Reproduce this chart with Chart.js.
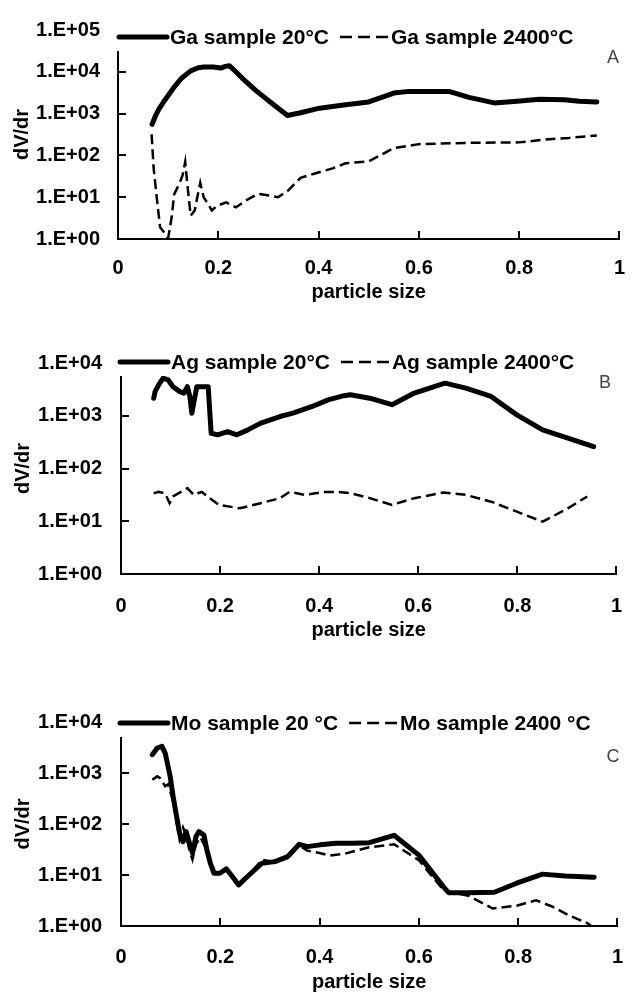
<!DOCTYPE html>
<html>
<head>
<meta charset="utf-8">
<script src="https://cdn.jsdelivr.net/npm/chart.js@4.4.1/dist/chart.umd.min.js"></script>
<style>
  body { margin: 0; background: #fff; width: 642px; height: 992px; overflow: hidden; }
  .panel { position: relative; width: 642px; }
</style>
</head>
<body>
<div class="panel" style="height:320px"><canvas id="chartA"></canvas></div>
<div class="panel" style="height:330px"><canvas id="chartB"></canvas></div>
<div class="panel" style="height:344px"><canvas id="chartC"></canvas></div>
<script>
const FONT = '"Liberation Sans", Arial, sans-serif';

// axis ticks
const xTickValues = [0, 0.2, 0.4, 0.6, 0.8, 1];
const xTickLabels = ['0', '0.2', '0.4', '0.6', '0.8', '1'];
const yTicksA  = [1, 10, 100, 1000, 10000, 100000];
const yLabelsA = ['1.E+00', '1.E+01', '1.E+02', '1.E+03', '1.E+04', '1.E+05'];
const yTicksBC  = [1, 10, 100, 1000, 10000];
const yLabelsBC = ['1.E+00', '1.E+01', '1.E+02', '1.E+03', '1.E+04'];

// A: Ga
const gaLabels = ['Ga sample 20°C', 'Ga sample 2400°C'];
const ga20X = [0.068, 0.075, 0.081, 0.094, 0.110, 0.126, 0.145, 0.160, 0.171, 0.190, 0.205, 0.214, 0.222, 0.235, 0.248, 0.274, 0.306, 0.338, 0.364, 0.402, 0.454, 0.50, 0.55, 0.58, 0.62, 0.66, 0.70, 0.75, 0.79, 0.84, 0.89, 0.92, 0.955];
const ga20Y = [555, 900, 1250, 2150, 4000, 6900, 10500, 12500, 13000, 13000, 12300, 13500, 14000, 10000, 7000, 3650, 1800, 900, 1050, 1350, 1630, 1900, 3100, 3400, 3400, 3400, 2450, 1800, 1960, 2200, 2150, 1980, 1900];
const ga2400X = [0.067, 0.071, 0.078, 0.084, 0.094, 0.100, 0.107, 0.112, 0.123, 0.129, 0.134, 0.139, 0.145, 0.153, 0.158, 0.164, 0.171, 0.180, 0.187, 0.197, 0.216, 0.235, 0.254, 0.280, 0.306, 0.319, 0.338, 0.364, 0.396, 0.428, 0.454, 0.50, 0.55, 0.60, 0.70, 0.80, 0.86, 0.90, 0.955];
const ga2400Y = [320, 50, 8.2, 1.9, 1.35, 1.05, 3.3, 11.7, 22, 34, 70, 16.7, 3.6, 4.8, 9.8, 22, 9.8, 6.8, 4.8, 6.2, 7.5, 5.7, 8.2, 12.1, 10.7, 10, 14, 29, 38, 49, 65, 72, 150, 186, 200, 205, 245, 262, 300];

// B: Ag
const agLabels = ['Ag sample 20°C', 'Ag sample 2400°C'];
const ag20X = [0.066, 0.069, 0.076, 0.085, 0.095, 0.105, 0.118, 0.127, 0.134, 0.139, 0.143, 0.148, 0.153, 0.176, 0.182, 0.195, 0.215, 0.234, 0.256, 0.282, 0.321, 0.347, 0.386, 0.418, 0.45, 0.463, 0.502, 0.547, 0.592, 0.654, 0.696, 0.747, 0.799, 0.851, 0.902, 0.954];
const ag20Y = [2150, 2900, 3850, 5150, 4800, 3560, 2900, 2690, 3560, 2300, 1120, 2000, 3560, 3560, 465, 435, 500, 435, 540, 725, 967, 1120, 1500, 2000, 2400, 2500, 2150, 1620, 2690, 4150, 3330, 2320, 1040, 540, 375, 260];
const ag2400X = [0.066, 0.076, 0.089, 0.098, 0.105, 0.121, 0.134, 0.147, 0.163, 0.179, 0.198, 0.24, 0.282, 0.321, 0.34, 0.372, 0.411, 0.437, 0.463, 0.502, 0.547, 0.592, 0.651, 0.696, 0.747, 0.799, 0.851, 0.902, 0.941];
const ag2400Y = [34, 36, 34, 22, 29.5, 36, 42.5, 31.6, 36, 27.4, 20.4, 17.6, 22, 27.4, 36, 31.6, 36, 36, 34, 27.4, 20.4, 27.4, 35, 31.6, 23.5, 15.2, 9.8, 17.6, 29.5];

// C: Mo
const moLabels = ['Mo sample 20 °C', 'Mo sample 2400 °C'];
const mo20X = [0.063, 0.073, 0.0825, 0.089, 0.099, 0.105, 0.112, 0.118, 0.125, 0.131, 0.138, 0.144, 0.151, 0.157, 0.167, 0.173, 0.180, 0.187, 0.199, 0.212, 0.222, 0.237, 0.258, 0.284, 0.31, 0.336, 0.359, 0.375, 0.401, 0.433, 0.466, 0.50, 0.55, 0.60, 0.65, 0.66, 0.70, 0.752, 0.797, 0.849, 0.895, 0.953];
const mo20Y = [2290, 3090, 3330, 2460, 860, 347, 140, 66, 45, 71, 42, 27, 57, 71, 61, 31, 17, 10.8, 10.8, 13.2, 10, 6.4, 10, 17, 18.3, 23, 40, 36, 39, 42, 42, 43, 60, 24.5, 5.8, 4.5, 4.5, 4.6, 6.9, 10.4, 9.6, 9.0];
const mo2400X = [0.063, 0.073, 0.079, 0.089, 0.095, 0.105, 0.112, 0.118, 0.125, 0.131, 0.138, 0.144, 0.151, 0.160, 0.170, 0.180, 0.190, 0.200, 0.212, 0.237, 0.258, 0.284, 0.31, 0.336, 0.359, 0.375, 0.40, 0.42, 0.45, 0.50, 0.55, 0.60, 0.65, 0.70, 0.749, 0.797, 0.836, 0.869, 0.901, 0.94, 0.947];
const mo2400Y = [740, 860, 795, 550, 600, 280, 110, 50, 85, 60, 30, 20, 40, 55, 35, 20, 11, 11, 13, 6.4, 10, 20, 18, 23, 38, 30, 27, 24, 26, 35, 40, 19.5, 5, 3.9, 2.2, 2.5, 3.2, 2.4, 1.64, 1.13, 1.0];

function pts(xs, ys) {
  return xs.map((x, i) => ({ x: x, y: ys[i] }));
}

Chart.defaults.font.family = FONT;
Chart.defaults.font.size = 20;
Chart.defaults.font.weight = 'bold';
Chart.defaults.color = '#000';

// inner tick marks, panel letter and the legend that sits over the top of the plot
const panelDeco = {
  id: 'panelDeco',
  afterDraw(chart, args, opts) {
    const { ctx, chartArea: a, scales: { x, y } } = chart;
    ctx.save();
    ctx.strokeStyle = '#000';
    ctx.lineWidth = 2;
    ctx.beginPath();
    y.ticks.forEach(t => {
      const py = Math.round(y.getPixelForValue(t.value));
      ctx.moveTo(a.left, py);
      ctx.lineTo(a.left + 8, py);
    });
    x.ticks.forEach(t => {
      if (t.value === 0) return;
      const px = Math.round(x.getPixelForValue(t.value));
      ctx.moveTo(px, a.bottom);
      ctx.lineTo(px, a.bottom - 8);
    });
    ctx.stroke();

    ctx.font = '18px ' + FONT;
    ctx.fillStyle = '#444';
    ctx.textAlign = 'center';
    ctx.textBaseline = 'middle';
    ctx.fillText(opts.letter, opts.letterX, opts.letterY);

    ctx.font = 'bold 21px ' + FONT;
    const items = chart.data.datasets.map(ds => ({ ds: ds, w: ctx.measureText(ds.label).width }));
    const total = items.reduce((s, it) => s + 48 + 3 + it.w + 11, 0);
    let cx = opts.legendX;
    const cy = opts.legendY;
    ctx.fillStyle = '#fff';
    ctx.fillRect(cx - 7, cy - 14, total + 4, 28);
    items.forEach(it => {
      const dashed = !!it.ds.borderDash;
      ctx.setLineDash(dashed ? [12, 6] : []);
      ctx.lineWidth = dashed ? 2.5 : 5;
      ctx.lineCap = dashed ? 'butt' : 'round';
      ctx.beginPath();
      ctx.moveTo(cx, cy);
      ctx.lineTo(cx + 48, cy);
      ctx.stroke();
      ctx.setLineDash([]);
      ctx.fillStyle = '#000';
      ctx.textAlign = 'left';
      ctx.fillText(it.ds.label, cx + 51, cy + 1);
      cx += 48 + 3 + it.w + 11;
    });
    ctx.restore();
  }
};

function makeChart(id, cfg) {
  return new Chart(document.getElementById(id), {
    type: 'line',
    data: {
      datasets: [
        { label: cfg.labels[0], data: cfg.solid, borderColor: '#000', borderWidth: 5,
          pointRadius: 0, borderJoinStyle: 'round', borderCapStyle: 'round', tension: 0 },
        { label: cfg.labels[1], data: cfg.dashed, borderColor: '#000', borderWidth: 2.5,
          borderDash: [10, 5], pointRadius: 0, tension: 0 }
      ]
    },
    options: {
      responsive: true,
      maintainAspectRatio: false,
      animation: false,
      layout: { padding: cfg.pad },
      plugins: {
        legend: { display: false },
        tooltip: { enabled: false },
        panelDeco: cfg.deco
      },
      scales: {
        x: {
          type: 'linear', min: 0, max: 1,
          grid: { display: false, drawTicks: false },
          border: { display: true, color: '#000', width: 2 },
          afterBuildTicks: s => { s.ticks = xTickValues.map(v => ({ value: v })); },
          afterFit: s => { s.height = cfg.xH; },
          ticks: { padding: cfg.xTickPad, callback: (v, i) => xTickLabels[i] },
          title: { display: true, text: 'particle size', padding: { top: 0, bottom: cfg.xTitlePad } }
        },
        y: {
          type: 'logarithmic', min: 1, max: cfg.yTicks[cfg.yTicks.length - 1],
          grid: { display: false, drawTicks: false },
          border: { display: true, color: '#000', width: 2 },
          afterBuildTicks: s => { s.ticks = cfg.yTicks.map(v => ({ value: v })); },
          afterFit: s => { s.width = cfg.yW; },
          ticks: { padding: cfg.yTickPad, callback: (v, i) => cfg.yLabels[i] },
          title: { display: true, text: 'dV/dr', padding: { top: cfg.yTitlePad, bottom: 0 } }
        }
      }
    },
    plugins: [panelDeco]
  });
}

makeChart('chartA', {
  labels: gaLabels, solid: pts(ga20X, ga20Y), dashed: pts(ga2400X, ga2400Y),
  yTicks: yTicksA, yLabels: yLabelsA,
  pad: { top: 25, right: 5, left: 0, bottom: 0 },
  yW: 118, xH: 81, xTickPad: 17, xTitlePad: 16, yTickPad: 18, yTitlePad: 10,
  deco: { letter: 'A', letterX: 613, letterY: 58, legendX: 119, legendY: 37 }
});

makeChart('chartB', {
  labels: agLabels, solid: pts(ag20X, ag20Y), dashed: pts(ag2400X, ag2400Y),
  yTicks: yTicksBC, yLabels: yLabelsBC,
  pad: { top: 43, right: 5, left: 0, bottom: 0 },
  yW: 121, xH: 76, xTickPad: 20, xTitlePad: 8, yTickPad: 19, yTitlePad: 11,
  deco: { letter: 'B', letterX: 605, letterY: 63, legendX: 120, legendY: 42 }
});

makeChart('chartC', {
  labels: moLabels, solid: pts(mo20X, mo20Y), dashed: pts(mo2400X, mo2400Y),
  yTicks: yTicksBC, yLabels: yLabelsBC,
  pad: { top: 72, right: 8, left: 0, bottom: 0 },
  yW: 121, xH: 68, xTickPad: 19, xTitlePad: 0, yTickPad: 19, yTitlePad: 11,
  deco: { letter: 'C', letterX: 613, letterY: 107, legendX: 120, legendY: 73 }
});
</script>
</body>
</html>
